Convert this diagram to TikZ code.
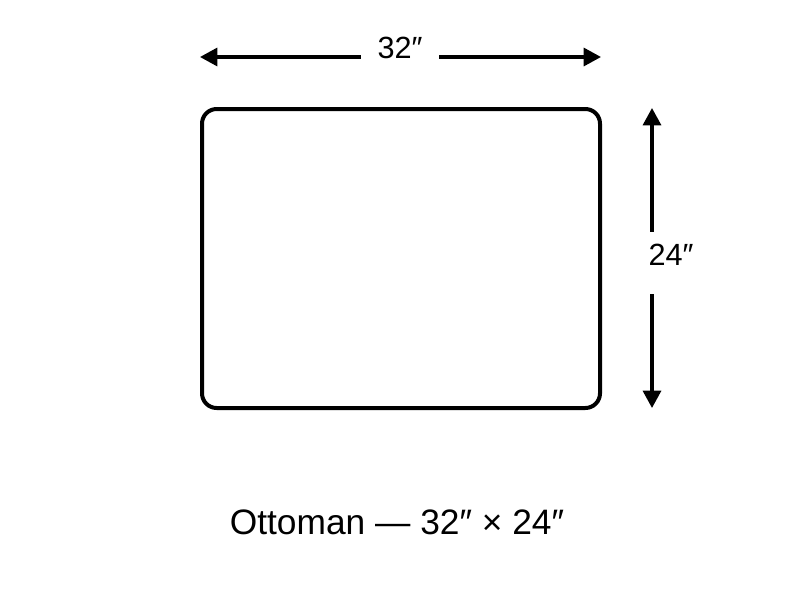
\documentclass[tikz,border=0pt]{standalone}
\usepackage{fontspec}
\setmainfont{Liberation Sans}
\usetikzlibrary{arrows.meta}
\begin{document}
\begin{tikzpicture}[x=0.75pt,y=-0.75pt,
  dimline/.style={line width=2.4pt,{Triangle[length=13pt,width=13.5pt]}-{Triangle[length=13pt,width=13.5pt]}},
  dimlabel/.style={fill=white,inner sep=0pt,anchor=base,font=\fontsize{23}{27}\selectfont},
  caption/.style={inner sep=0pt,anchor=base,font=\fontsize{26.5}{30}\selectfont}]
\useasboundingbox (0,0) rectangle (800,600);
\draw[line width=3pt,rounded corners=11pt] (202,109) rectangle (600,408);
\coordinate (tl) at (200,57);
\coordinate (tr) at (601,57);
\coordinate (rt) at (652,108);
\coordinate (rb) at (652,408);
\draw[dimline] (tl) -- (tr);
\node[dimlabel,minimum width=58.5pt,text height=20pt,text depth=5pt] (w) at (400,58) {32″};
\draw[dimline] (rb) -- (rt);
\node[dimlabel,minimum width=36pt,text height=24.75pt,text depth=21.75pt] (h) at (671,265) {24″};
\node[caption] (cap) at (397,534) {Ottoman — 32″ × 24″};
\end{tikzpicture}
\end{document}
